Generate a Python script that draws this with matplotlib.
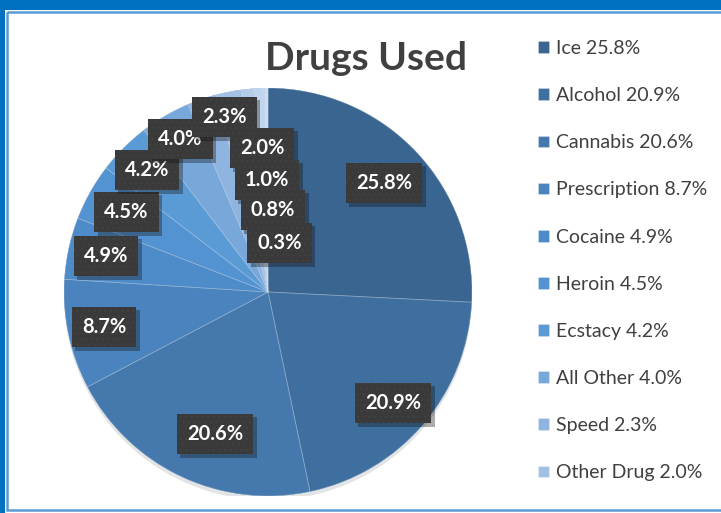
import numpy as np
import matplotlib.pyplot as plt
from matplotlib import patheffects as pe
from matplotlib.patches import Rectangle, Circle

# drug use shares, clockwise from 12 o'clock
drugs = ['Ice', 'Alcohol', 'Cannabis', 'Prescription', 'Cocaine', 'Heroin',
         'Ecstacy', 'All Other', 'Speed', 'Other Drug', 'Other 1', 'Other 2', 'Other 3']
shares = [25.8, 20.9, 20.6, 8.7, 4.9, 4.5, 4.2, 4.0, 2.3, 2.0, 1.0, 0.8, 0.3]
n_legend = 10

colors = ['#3b6591', '#3f6f9f', '#4579ae', '#4a83bd', '#4e8bc9', '#5393d2',
          '#5b9bd5', '#78a7da', '#8fb4df', '#a3c1e5', '#b3cce9', '#bfd4ed', '#cadcf1']

# label box centres in pie units (excel-style best fit)
label_pos = [(0.569, 0.534), (0.613, -0.544), (-0.260, -0.696), (-0.804, -0.172),
             (-0.794, 0.176), (-0.693, 0.392), (-0.593, 0.598), (-0.429, 0.750),
             (-0.213, 0.858), (-0.029, 0.706), (-0.005, 0.549), (0.025, 0.402),
             (0.056, 0.240)]

plt.rcParams['hatch.linewidth'] = 0.5

W, H = 721, 513
fig = plt.figure(figsize=(W / 100, H / 100), dpi=100)
fig.patch.set_facecolor('#0070c0')

# background: frame + radial gradient
bg = fig.add_axes([0, 0, 1, 1])
bg.add_patch(Rectangle((5, 10), W, H, facecolor='white', lw=0))
yy, xx = np.mgrid[0:H, 0:W]
d = np.hypot((xx - 380) / 430, (yy - 250) / 330)
shade = np.clip(1.0 - 0.17 * d ** 1.6, 0, 1)
bg.imshow(shade, cmap='gray', vmin=0, vmax=1, extent=(8, W, 510, 13), aspect='auto')
bg.add_patch(Rectangle((7, 12), W, 498, fill=False, edgecolor='#5b9bd5', lw=1.8))
bg.add_patch(Rectangle((530, 35), 186, 470, facecolor='white', alpha=0.3, lw=0))
bg.set_xlim(0, W)
bg.set_ylim(H, 0)
bg.axis('off')

bg.text(366, 59, 'Drugs Used', ha='center', va='center', fontsize=28,
        fontweight='bold', family='Lato', color='#404040')

# pie
cx, cy, r = 268, 292, 204
ax = fig.add_axes([(cx - r) / W, (H - cy - r) / H, 2 * r / W, 2 * r / H])
ax.add_patch(Circle((0, 0), 1, facecolor='#3f6f9f', zorder=0,
                    path_effects=[pe.SimplePatchShadow(offset=(0, -3), alpha=0.12),
                                  pe.Normal()]))
wedges, _ = ax.pie(shares, colors=colors, startangle=90, counterclock=False,
                   wedgeprops=dict(edgecolor=(1, 1, 1, 0.3), linewidth=0.6))
ax.set_xlim(-1, 1)
ax.set_ylim(-1, 1)
ax.set_aspect('auto')

# dark dotted label boxes with a plain (unhatched) drop shadow
box_shadow = [pe.SimplePatchShadow(offset=(2.5, -2.5), alpha=0.35, hatch=None),
              pe.Normal()]
for (x, y), v in zip(label_pos, shares):
    t = ax.text(x, y, f'{v:.1f}%', ha='center', va='center', fontsize=14.5,
                fontweight='bold', family='Lato', color='white', zorder=5,
                bbox=dict(boxstyle='square,pad=0.5', facecolor='#3a3a3a',
                          edgecolor='#444444', linewidth=0, hatch='...'))
    t.get_bbox_patch().set_path_effects(box_shadow)

labels = [f'{n} {v:.1f}%' for n, v in zip(drugs[:n_legend], shares[:n_legend])]
fig.legend(wedges[:n_legend], labels, loc='upper left',
           bbox_to_anchor=(538 / W, 1 - 40 / H), frameon=False,
           prop=dict(family='Lato', size=14), labelcolor='#404040',
           labelspacing=1.55, handlelength=0.55, handleheight=0.55,
           handletextpad=0.35, borderpad=0, borderaxespad=0)

fig.savefig('out.png', dpi=100)
